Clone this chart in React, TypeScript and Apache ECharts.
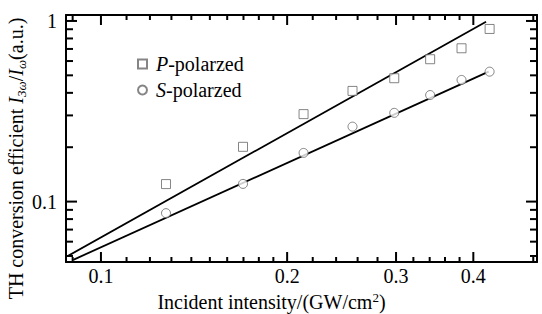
import React, { useEffect, useRef } from 'react';
import * as echarts from 'echarts';

// ---- data ----
const xMajorTicks = [0.1, 0.2, 0.3, 0.4];
const xMinorTicks = [0.09, 0.11, 0.12, 0.13, 0.14, 0.15, 0.16, 0.17, 0.18, 0.19, 0.22, 0.24, 0.26, 0.28, 0.32, 0.34, 0.36, 0.38, 0.5];
const yMajorTicks = [0.1, 1];
const yMinorTicks = [0.05, 0.06, 0.07, 0.08, 0.09, 0.2, 0.3, 0.4, 0.5, 0.6, 0.7, 0.8, 0.9];

const intensity = [0.1274, 0.1697, 0.2126, 0.2551, 0.298, 0.3406, 0.3828, 0.425];
const pPolarized = [0.125, 0.201, 0.305, 0.41, 0.482, 0.614, 0.706, 0.903];
const sPolarized = [0.0863, 0.1253, 0.186, 0.26, 0.31, 0.389, 0.4715, 0.524];

const pFitX = [0.0885, 0.4194];
const pFitY = [0.0501, 0.991];
const sFitX = [0.0902, 0.4235];
const sFitY = [0.0476, 0.524];

const X_MIN = 0.0878;
const X_MAX = 0.507;
const Y_MIN = 0.0463;
const Y_MAX = 1.079;

const FONT = 'Liberation Serif';

// layout
const W = 542;
const H = 314;
const G_LEFT = 66;
const G_RIGHT = 5;
const G_TOP = 15;
const G_BOTTOM = 52;

function fmt(v: number) {
  return String(Number(Number(v).toPrecision(2)));
}

function xAxisDef(position: string, showLabel: boolean, withName: boolean) {
  const a: any = {
    type: 'log',
    gridIndex: 0,
    position,
    min: X_MIN,
    max: X_MAX,
    axisLine: { show: true, onZero: false, lineStyle: { color: '#000', width: 2 } },
    axisTick: { show: false },
    axisLabel: {
      show: showLabel,
      customValues: xMajorTicks,
      formatter: (v: number) => fmt(v),
      fontFamily: FONT,
      fontSize: 20,
      color: '#000',
      margin: 4,
    },
    minorTick: { show: false },
    splitLine: { show: false },
    minorSplitLine: { show: false },
  };
  if (withName) {
    a.name = '{n|Incident intensity/(GW/cm}{sup|2}{n|)}';
    a.nameLocation = 'middle';
    a.nameGap = 29;
    a.nameMoveOverlap = false;
    a.nameTextStyle = {
      fontFamily: FONT,
      fontSize: 20,
      color: '#000',
      padding: [0, 60, 0, 0],
      rich: {
        n: { fontFamily: FONT, fontSize: 20, color: '#000', lineHeight: 22 },
        sup: { fontFamily: FONT, fontSize: 13, color: '#000', lineHeight: 22, verticalAlign: 'top' },
      },
    };
  }
  return a;
}

function yAxisDef(position: string, showLabel: boolean, withName: boolean) {
  const a: any = {
    type: 'log',
    gridIndex: 0,
    position,
    min: Y_MIN,
    max: Y_MAX,
    axisLine: { show: true, onZero: false, lineStyle: { color: '#000', width: 2 } },
    axisTick: { show: false },
    axisLabel: {
      show: showLabel,
      customValues: yMajorTicks,
      formatter: (v: number) => fmt(v),
      fontFamily: FONT,
      fontSize: 20,
      color: '#000',
      margin: 9,
    },
    minorTick: { show: false },
    splitLine: { show: false },
    minorSplitLine: { show: false },
  };
  if (withName) {
    a.name = '{n|TH conversion efficient }{i|I}{s|3ω}{n|/}{i|I}{s|ω}{n|(a.u.)}';
    a.nameLocation = 'middle';
    a.nameRotate = 90;
    a.nameGap = 38;
    a.nameMoveOverlap = false;
    a.nameTextStyle = {
      fontFamily: FONT,
      fontSize: 20,
      color: '#000',
      padding: [0, 40, 0, 0],
      rich: {
        n: { fontFamily: FONT, fontSize: 20, color: '#000', lineHeight: 24 },
        i: { fontFamily: FONT, fontSize: 20, fontStyle: 'italic', color: '#000', lineHeight: 24 },
        s: { fontFamily: FONT, fontSize: 13, fontStyle: 'italic', color: '#000', lineHeight: 14, verticalAlign: 'bottom' },
      },
    };
  }
  return a;
}

// Multiplicative step in data space that corresponds to `px` pixels on each log axis.
const PLOT_W = W - G_LEFT - G_RIGHT;
const PLOT_H = H - G_TOP - G_BOTTOM;
const xFactor = (px: number) => Math.pow(10, (px * Math.log10(X_MAX / X_MIN)) / PLOT_W);
const yFactor = (px: number) => Math.pow(10, (px * Math.log10(Y_MAX / Y_MIN)) / PLOT_H);

function tickSeries(): any[] {
  const out: any[] = [];
  const mk = (data: number[][]) => ({
    type: 'line',
    data,
    symbol: 'none',
    showSymbol: false,
    silent: true,
    clip: false,
    lineStyle: { color: '#000', width: 2 },
    z: 6,
  });
  const addX = (vals: number[], len: number) => {
    vals.forEach((v) => {
      out.push(mk([[v, Y_MIN], [v, Y_MIN * yFactor(len)]]));
      out.push(mk([[v, Y_MAX], [v, Y_MAX / yFactor(len)]]));
    });
  };
  const addY = (vals: number[], len: number) => {
    vals.forEach((v) => {
      out.push(mk([[X_MIN, v], [X_MIN * xFactor(len), v]]));
      out.push(mk([[X_MAX, v], [X_MAX / xFactor(len), v]]));
    });
  };
  addX(xMajorTicks, 10);
  addX(xMinorTicks, 5);
  addY(yMajorTicks, 11);
  addY(yMinorTicks, 7);
  return out;
}

export default function App() {
  const ref = useRef<HTMLDivElement>(null);

  useEffect(() => {
    if (!ref.current) return;
    const chart = echarts.init(ref.current, undefined, { renderer: 'svg' });
    const pts = (xs: number[], ys: number[]) => xs.map((x, i) => [x, ys[i]]);
    const markerStyle = { color: '#fff', borderColor: '#666', borderWidth: 1 };
    chart.setOption({
      animation: false,
      backgroundColor: '#fff',
      grid: { left: G_LEFT, right: G_RIGHT, top: G_TOP, bottom: G_BOTTOM, containLabel: false, outerBoundsMode: 'none' },
      xAxis: [xAxisDef('bottom', true, true), xAxisDef('top', false, false)],
      yAxis: [yAxisDef('left', true, true), yAxisDef('right', false, false)],
      legend: {
        orient: 'vertical',
        left: 132,
        top: 49,
        itemWidth: 9,
        itemHeight: 9,
        itemGap: 6,
        data: ['P-polarzed', 'S-polarzed'],
        formatter: (name: string) => `{i|${name.charAt(0)}}{n|${name.slice(1)}}`,
        textStyle: {
          fontFamily: FONT,
          fontSize: 20,
          color: '#000',
          padding: [0, 0, 0, 4],
          rich: {
            i: { fontFamily: FONT, fontSize: 20, fontStyle: 'italic', color: '#000', lineHeight: 20 },
            n: { fontFamily: FONT, fontSize: 20, color: '#000', lineHeight: 20 },
          },
        },
      },
      series: [
        ...tickSeries(),
        {
          name: 'P-fit',
          type: 'line',
          data: pts(pFitX, pFitY),
          showSymbol: false,
          symbol: 'none',
          lineStyle: { color: '#000', width: 1.8 },
          z: 3,
        },
        {
          name: 'S-fit',
          type: 'line',
          data: pts(sFitX, sFitY),
          showSymbol: false,
          symbol: 'none',
          lineStyle: { color: '#000', width: 1.8 },
          z: 3,
        },
        {
          name: 'P-polarzed',
          type: 'scatter',
          data: pts(intensity, pPolarized),
          symbol: 'rect',
          symbolSize: 9,
          itemStyle: markerStyle,
          z: 4,
        },
        {
          name: 'S-polarzed',
          type: 'scatter',
          data: pts(intensity, sPolarized),
          symbol: 'circle',
          symbolSize: 9,
          itemStyle: markerStyle,
          z: 4,
        },
      ],
    });

    return () => chart.dispose();
  }, []);

  return <div ref={ref} style={{ position: 'absolute', left: 0, top: 0, width: W, height: H }} />;
}
